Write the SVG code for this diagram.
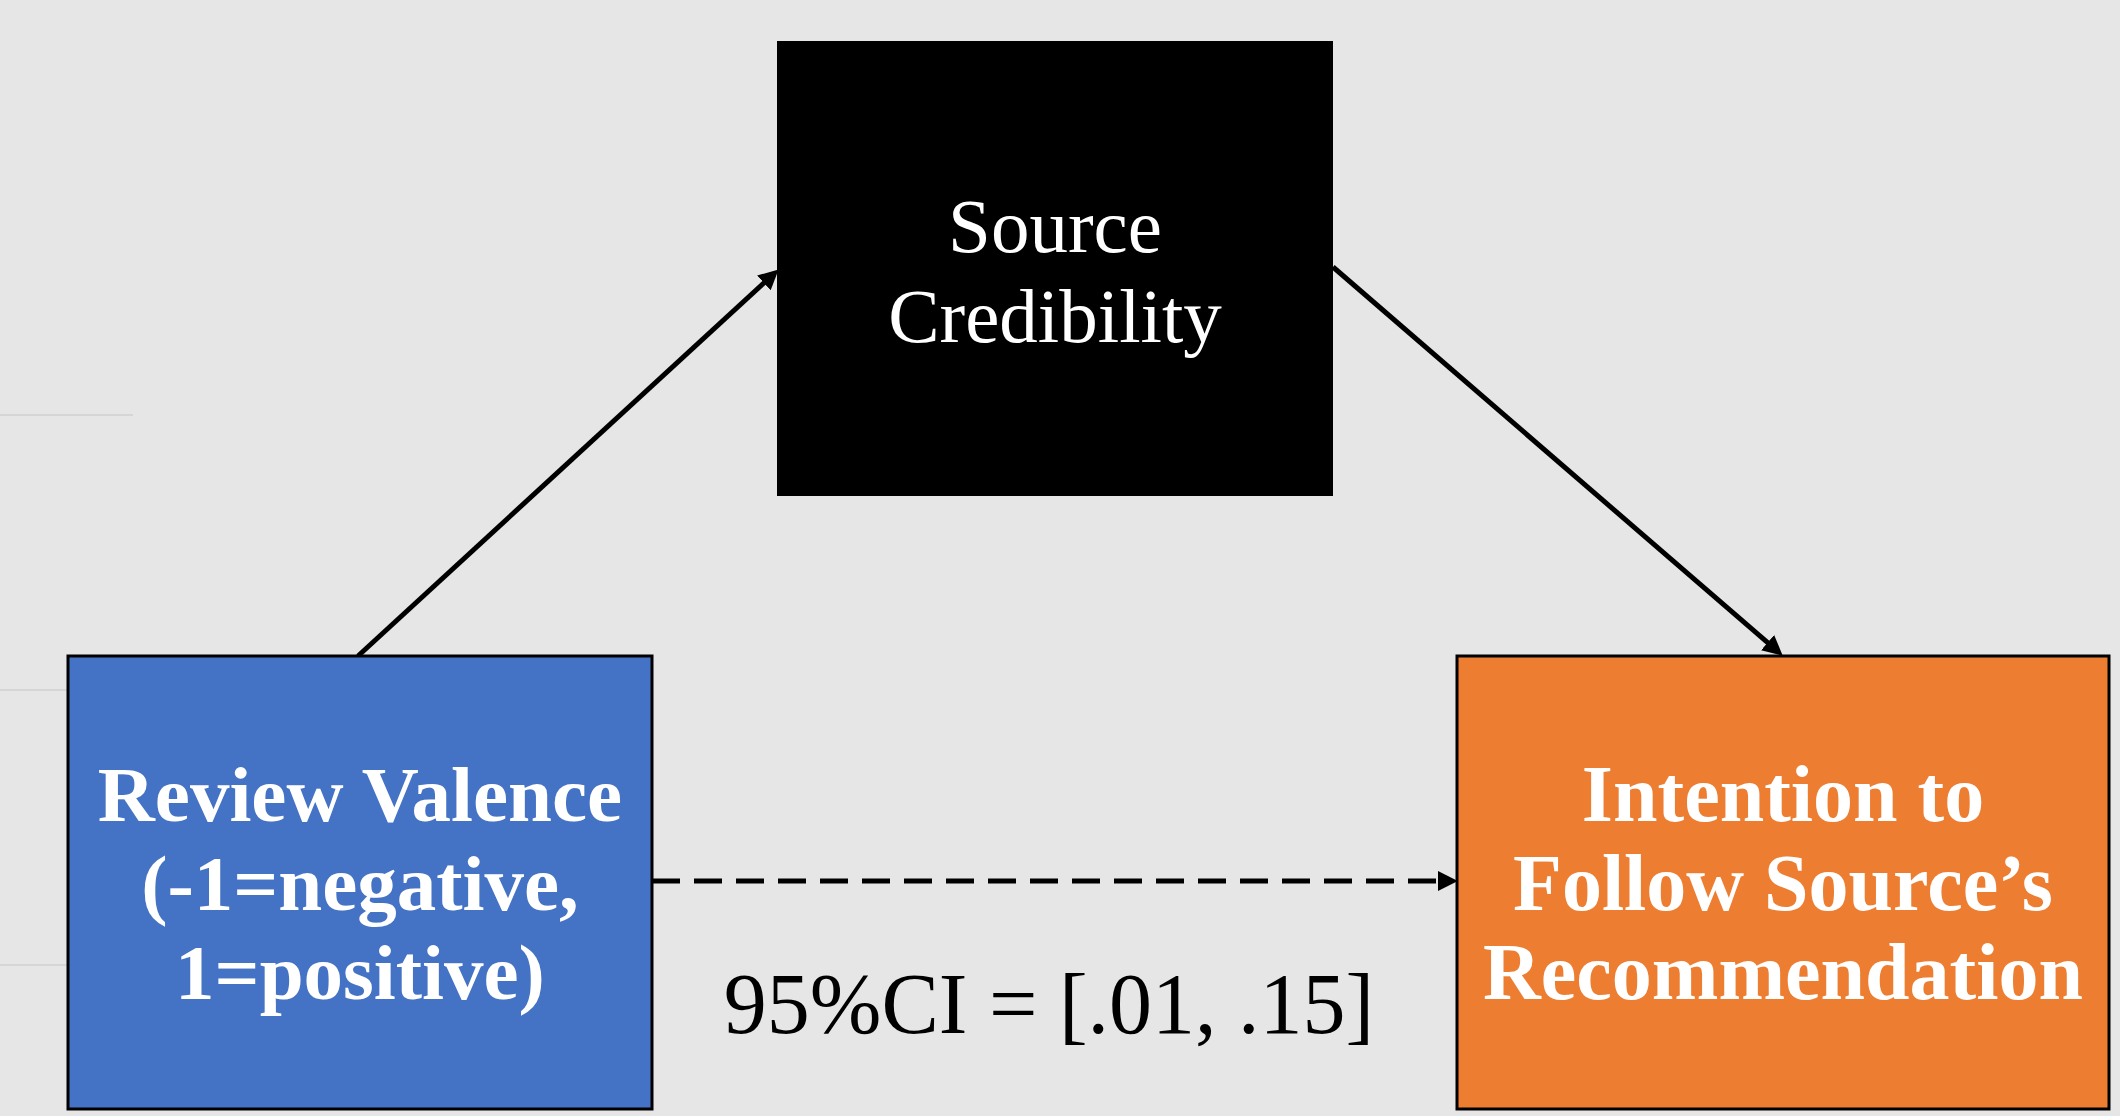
<svg xmlns="http://www.w3.org/2000/svg" width="2120" height="1116" viewBox="0 0 2120 1116">
  <style>
    .bg { fill: #e6e6e6; }
    .rule { stroke: #d6d6d6; stroke-width: 2; }
    .box { stroke: #000; stroke-width: 3; }
    .lbl { font-family: "Liberation Serif", "Times New Roman", serif; fill: #fff; text-anchor: middle; }
    .bold { font-weight: bold; font-size: 79px; }
    .wide { font-size: 80px; }
    .reg { font-size: 77px; }
    .conn { stroke: #000; stroke-width: 5; fill: none; }
    .dash { stroke-dasharray: 28 14; }
    .note { font-family: "Liberation Serif", "Times New Roman", serif; font-size: 86px; fill: #000; text-anchor: middle; }
  </style>
  <defs>
    <marker id="arrow" markerUnits="userSpaceOnUse" markerWidth="20" markerHeight="20" viewBox="0 0 19 19" refX="3" refY="9.5" orient="auto">
      <path d="M0,0 L19,9.5 L0,19 z" fill="#000"/>
    </marker>
  </defs>

  <rect class="bg" x="0" y="0" width="2120" height="1116"/>

  <!-- faint guide rules at the left edge -->
  <g id="rules">
    <line class="rule" x1="0" y1="415" x2="133" y2="415"/>
    <line class="rule" x1="0" y1="690" x2="133" y2="690"/>
    <line class="rule" x1="0" y1="965" x2="133" y2="965"/>
  </g>

  <g id="connectors">
    <line class="conn" x1="358" y1="656" x2="766.2" y2="280.8" marker-end="url(#arrow)"/>
    <line class="conn" x1="1333" y1="267" x2="1770" y2="644.7" marker-end="url(#arrow)"/>
    <line class="conn dash" x1="652" y1="881" x2="1441" y2="881" marker-end="url(#arrow)"/>
  </g>

  <g id="source-credibility">
    <rect x="777" y="41" width="556" height="455" fill="#000"/>
    <text class="lbl reg" x="1055" y="252">Source</text>
    <text class="lbl reg" x="1055" y="342">Credibility</text>
  </g>

  <g id="review-valence">
    <rect class="box" x="68" y="656" width="584" height="453" fill="#4472c4"/>
    <text class="lbl bold" x="360" y="821">Review Valence</text>
    <text class="lbl bold" x="360" y="910">(-1=negative,</text>
    <text class="lbl bold" x="360" y="999">1=positive)</text>
  </g>

  <g id="intention">
    <rect class="box" x="1457" y="656" width="652" height="453" fill="#ed7d31"/>
    <text class="lbl bold wide" x="1783" y="821">Intention to</text>
    <text class="lbl bold wide" x="1783" y="910">Follow Source’s</text>
    <text class="lbl bold wide" x="1783" y="999">Recommendation</text>
  </g>

  <g id="ci-label">
    <text class="note" x="1049" y="1033">95%CI = [.01, .15]</text>
  </g>
</svg>
